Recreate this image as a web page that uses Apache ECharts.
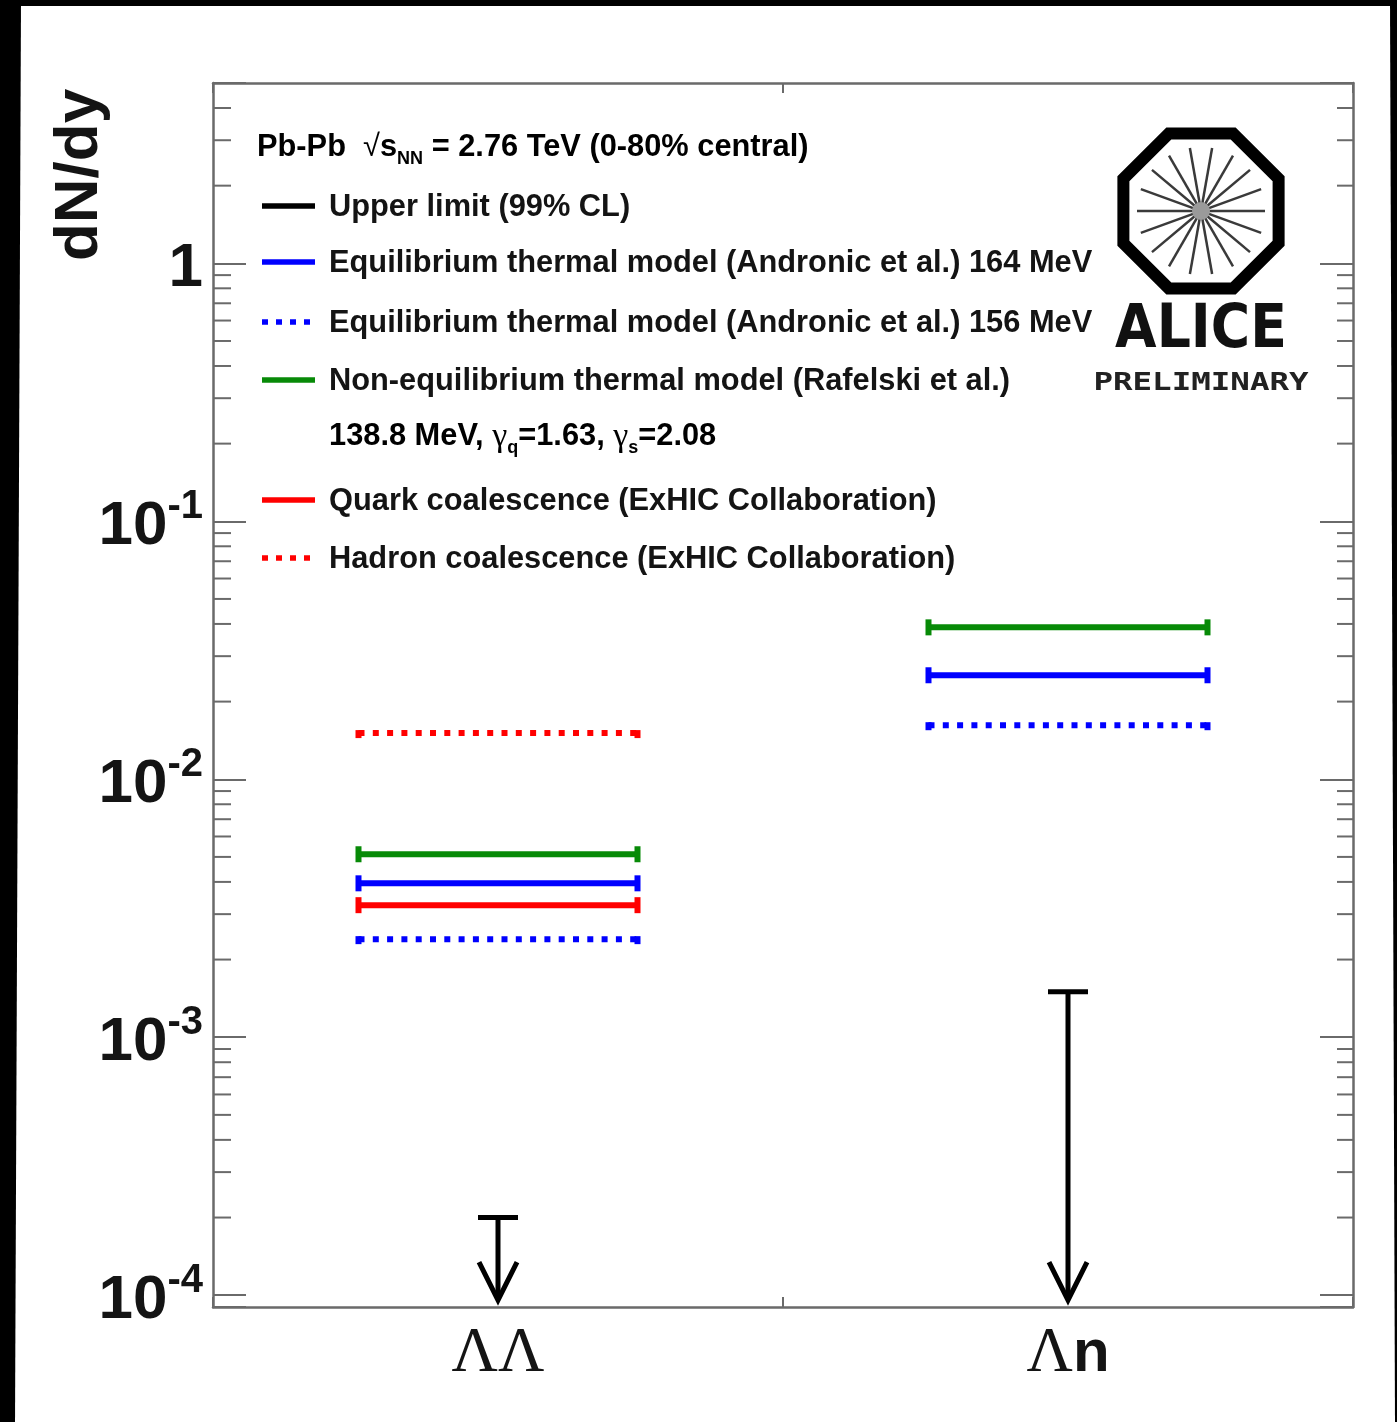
<!DOCTYPE html>
<html><head><meta charset="utf-8">
<script src="https://cdn.jsdelivr.net/npm/echarts@6/dist/echarts.min.js"></script>
<style>html,body{margin:0;padding:0;background:#fff;}#chart{width:1397px;height:1422px;}</style>
</head><body><div id="chart"></div>
<script>
// ---- data ----
const categories = ['ΛΛ', 'Λn'];
const upperLimit = [2.0e-4, 1.5e-3];
const arrowTip = [9.4e-5, 9.4e-5];
const eqThermal164 = [3.95e-3, 2.53e-2];
const eqThermal156 = [2.40e-3, 1.62e-2];
const nonEqThermal = [5.12e-3, 3.88e-2];
const quarkCoalescence = [3.25e-3, null];
const hadronCoalescence = [1.51e-2, null];
const yMin = 9e-5, yMax = 5;
const decadeLabels = { '-4': '{b|10}{s|-4}', '-3': '{b|10}{s|-3}', '-2': '{b|10}{s|-2}', '-1': '{b|10}{s|-1}', '0': '{b|1}' };
const seriesNames = [
  'Upper limit (99% CL)',
  'Equilibrium thermal model (Andronic et al.) 164 MeV',
  'Equilibrium thermal model (Andronic et al.) 156 MeV',
  'Non-equilibrium thermal model (Rafelski et al.)',
  'Quark coalescence (ExHIC Collaboration)',
  'Hadron coalescence (ExHIC Collaboration)'
];
const yTitle = 'dN/dy';

// ---- styles ----
const RED = '#ff0000', BLUE = '#0000ff', GREEN = '#078a07', BLACK = '#000';
const FRAME = '#6a6a6a';
const TXT = '#141414';
const SANS = '"Liberation Sans", Arial, Helvetica, sans-serif';
const SERIF = '"Liberation Serif", "Times New Roman", serif';
const LEG_FS = 30.8;

const chart = echarts.init(document.getElementById('chart'), null, { renderer: 'canvas' });

function modelSeries(name, values, color, dotted) {
  const data = [];
  values.forEach((v, i) => { if (v != null) data.push([i, v]); });
  return {
    type: 'custom', name, xAxisIndex: 0, yAxisIndex: 0, silent: true, z: 5, data,
    renderItem: function (params, api) {
      const p = api.coord([api.value(0), api.value(1)]);
      const bw = params.coordSys.width / categories.length;
      const half = bw * 0.25;
      const x1 = p[0] - half, x2 = p[0] + half, y = p[1];
      const children = [
        { type: 'line', shape: { x1: x1 + 3, y1: y, x2: x2 - 3, y2: y },
          style: { stroke: color, lineWidth: 6, lineDash: dotted ? [6, 8.3] : null } }
      ];
      if (dotted) {
        children.push({ type: 'rect', shape: { x: x1, y: y - 3, width: 6, height: 8 }, style: { fill: color } });
        children.push({ type: 'rect', shape: { x: x2 - 6, y: y - 3, width: 6, height: 8 }, style: { fill: color } });
      } else {
        children.push({ type: 'rect', shape: { x: x1, y: y - 8, width: 6, height: 16 }, style: { fill: color } });
        children.push({ type: 'rect', shape: { x: x2 - 6, y: y - 8, width: 6, height: 16 }, style: { fill: color } });
      }
      return { type: 'group', children };
    }
  };
}

const ulSeries = {
  type: 'custom', name: seriesNames[0], xAxisIndex: 0, yAxisIndex: 0, silent: true, z: 6,
  data: upperLimit.map((v, i) => [i, v, arrowTip[i]]),
  renderItem: function (params, api) {
    const top = api.coord([api.value(0), api.value(1)]);
    const tip = api.coord([api.value(0), api.value(2)]);
    const x = top[0];
    return { type: 'group', children: [
      { type: 'line', shape: { x1: x, y1: top[1], x2: x, y2: tip[1] - 3 }, style: { stroke: BLACK, lineWidth: 5 } },
      { type: 'line', shape: { x1: x - 20, y1: top[1], x2: x + 20, y2: top[1] }, style: { stroke: BLACK, lineWidth: 5 } },
      { type: 'polyline', shape: { points: [[x - 19, tip[1] - 40], [x, tip[1] - 2], [x + 19, tip[1] - 40]] },
        style: { stroke: BLACK, lineWidth: 5, fill: null, lineJoin: 'miter' } }
    ] };
  }
};

// minor log ticks (2..9 x 10^n) drawn through the y scale on both sides
const minorTickVals = [];
for (let e = -5; e <= 0; e++) for (let k = 2; k <= 9; k++) {
  const v = k * Math.pow(10, e);
  if (v > yMin && v < yMax) minorTickVals.push([0, v]);
}
const minorTicks = {
  type: 'custom', silent: true, xAxisIndex: 0, yAxisIndex: 0, z: 3, data: minorTickVals,
  renderItem: function (params, api) {
    const y = api.coord([0, api.value(1)])[1];
    const cs = params.coordSys;
    return { type: 'group', children: [
      { type: 'line', shape: { x1: cs.x, y1: y, x2: cs.x + 18, y2: y }, style: { stroke: FRAME, lineWidth: 2 } },
      { type: 'line', shape: { x1: cs.x + cs.width - 16, y1: y, x2: cs.x + cs.width, y2: y }, style: { stroke: FRAME, lineWidth: 2 } }
    ] };
  }
};

function yLabel(value) {
  const l = Math.log10(value);
  const e = Math.round(l);
  if (Math.abs(l - e) > 1e-6) return '';
  return decadeLabels[String(e)] || '';
}

// ---- legend (graphic) ----
const legendX1 = 262, legendX2 = 315, legendTextX = 329;
const legendRows = [
  { y: 206, color: BLACK, dotted: false, text: seriesNames[0] },
  { y: 262, color: BLUE, dotted: false, text: seriesNames[1] },
  { y: 322, color: BLUE, dotted: true, text: seriesNames[2] },
  { y: 380, color: GREEN, dotted: false, text: seriesNames[3] },
  { y: 500, color: RED, dotted: false, text: seriesNames[4] },
  { y: 558, color: RED, dotted: true, text: seriesNames[5] }
];
const legendRich = {
  b: { fontFamily: SANS, fontWeight: 'bold', fontSize: LEG_FS, color: TXT, lineHeight: 40 },
  r: { fontFamily: SANS, fontWeight: 'normal', fontSize: LEG_FS, color: TXT, lineHeight: 40 },
  g: { fontFamily: SERIF, fontWeight: 'normal', fontSize: 34, color: TXT, lineHeight: 40 },
  sub: { fontFamily: SANS, fontWeight: 'bold', fontSize: 18, color: TXT, lineHeight: 18, verticalAlign: 'bottom' }
};
const graphics = [];
legendRows.forEach(r => {
  graphics.push({ type: 'line', silent: true, shape: { x1: legendX1, y1: r.y, x2: legendX2, y2: r.y },
    style: { stroke: r.color, lineWidth: 5.5, lineDash: r.dotted ? [6, 8] : null } });
  graphics.push({ type: 'text', silent: true, x: legendTextX, y: r.y + 2,
    style: { text: r.text, fontFamily: SANS, fontWeight: 'bold', fontSize: LEG_FS, fill: TXT, textAlign: 'left', textVerticalAlign: 'middle' } });
});
graphics.push({ type: 'text', silent: true, x: 257, y: 148,
  style: { text: '{b|Pb-Pb  }{r|√}{b|s}{sub|NN}{b| = 2.76 TeV (0-80% central)}', rich: legendRich, textAlign: 'left', textVerticalAlign: 'middle' } });
graphics.push({ type: 'text', silent: true, x: 329, y: 437,
  style: { text: '{b|138.8 MeV, }{g|γ}{sub|q}{b|=1.63, }{g|γ}{sub|s}{b|=2.08}', rich: legendRich, textAlign: 'left', textVerticalAlign: 'middle' } });

// y title
graphics.push({ type: 'text', silent: true, x: 80, y: 175, rotation: Math.PI / 2,
  style: { text: yTitle, fontFamily: SANS, fontWeight: 'bold', fontSize: 62, fill: TXT, textAlign: 'center', textVerticalAlign: 'middle' } });

// ALICE logo
const cx = 1201, cy = 211, R = 84;
const oct = [];
for (let k = 0; k < 8; k++) { const a = Math.PI / 8 + k * Math.PI / 4; oct.push([cx + R * Math.cos(a), cy + R * Math.sin(a)]); }
graphics.push({ type: 'polygon', silent: true, shape: { points: oct }, style: { fill: null, stroke: '#000', lineWidth: 12, lineJoin: 'miter' } });
for (let k = 0; k < 18; k++) {
  const a = k * Math.PI * 2 / 18;
  graphics.push({ type: 'line', silent: true, shape: { x1: cx + 4 * Math.cos(a), y1: cy + 4 * Math.sin(a), x2: cx + 64 * Math.cos(a), y2: cy + 64 * Math.sin(a) },
    style: { stroke: '#3a3a3a', lineWidth: 2.5 } });
}
graphics.push({ type: 'circle', silent: true, shape: { cx, cy, r: 9 }, style: { fill: '#9a9a9a' } });
graphics.push({ type: 'text', silent: true, x: 1201, y: 331, scaleX: 0.88,
  style: { text: 'ALICE', fontFamily: '"DejaVu Sans", sans-serif', fontWeight: 'bold', fontSize: 61, fill: '#111', textAlign: 'center', textVerticalAlign: 'middle' } });
graphics.push({ type: 'text', silent: true, x: 1201, y: 383, scaleX: 1.3,
  style: { text: 'PRELIMINARY', fontFamily: '"DejaVu Sans Mono", monospace', fontWeight: 'bold', fontSize: 25, fill: '#222', textAlign: 'center', textVerticalAlign: 'middle' } });

// black borders of the original image
graphics.push({ type: 'polygon', silent: true, shape: { points: [[0, 0], [21, 0], [15, 1422], [0, 1422]] }, style: { fill: '#000' }, z: 100 });
graphics.push({ type: 'rect', silent: true, shape: { x: 0, y: 0, width: 1397, height: 6 }, style: { fill: '#000' }, z: 100 });
graphics.push({ type: 'polygon', silent: true, shape: { points: [[1390, 0], [1397, 0], [1397, 1422], [1395, 1422]] }, style: { fill: '#000' }, z: 100 });

const option = {
  animation: false,
  backgroundColor: '#fff',
  grid: { left: 213, right: 44, top: 83, bottom: 115, containLabel: false },
  xAxis: [
    { type: 'category', data: categories, position: 'bottom', boundaryGap: true,
      axisLine: { show: true, lineStyle: { color: FRAME, width: 2.5 } },
      axisTick: { show: true, inside: true, length: 10, lineStyle: { color: FRAME, width: 2 } },
      splitLine: { show: false },
      axisLabel: { margin: 14, formatter: v => v.split('').map(ch => ch === 'Λ' ? '{g|Λ}' : '{n|' + ch + '}').join(''),
        rich: { g: { fontFamily: SERIF, fontSize: 64, color: TXT, lineHeight: 66 },
                n: { fontFamily: SANS, fontWeight: 'bold', fontSize: 60, color: TXT, lineHeight: 66 } } } },
    { type: 'category', data: categories, position: 'top', boundaryGap: true,
      axisLine: { show: true, lineStyle: { color: FRAME, width: 2.5 } },
      axisTick: { show: true, inside: true, length: 10, lineStyle: { color: FRAME, width: 2 } },
      axisLabel: { show: false }, splitLine: { show: false } }
  ],
  yAxis: [
    { type: 'log', logBase: 10, min: yMin, max: yMax, position: 'left',
      axisLine: { show: true, lineStyle: { color: FRAME, width: 2.5 } },
      axisTick: { show: true, inside: true, length: 33, lineStyle: { color: FRAME, width: 2 } },
      splitLine: { show: false }, minorTick: { show: false },
      axisLabel: { margin: 10, padding: [12, 0, 0, 0], formatter: yLabel,
        rich: { b: { fontFamily: SANS, fontWeight: 'bold', fontSize: 62, color: TXT, lineHeight: 80 },
                s: { fontFamily: SANS, fontWeight: 'bold', fontSize: 40, color: TXT, lineHeight: 40, verticalAlign: 'top' } } } },
    { type: 'log', logBase: 10, min: yMin, max: yMax, position: 'right',
      axisLine: { show: true, lineStyle: { color: FRAME, width: 2.5 } },
      axisTick: { show: true, inside: true, length: 33, lineStyle: { color: FRAME, width: 2 } },
      splitLine: { show: false }, axisLabel: { show: false } }
  ],
  series: [
    minorTicks,
    modelSeries(seriesNames[5], hadronCoalescence, RED, true),
    modelSeries(seriesNames[3], nonEqThermal, GREEN, false),
    modelSeries(seriesNames[1], eqThermal164, BLUE, false),
    modelSeries(seriesNames[4], quarkCoalescence, RED, false),
    modelSeries(seriesNames[2], eqThermal156, BLUE, true),
    ulSeries
  ],
  graphic: graphics
};
chart.setOption(option);
</script></body></html>
